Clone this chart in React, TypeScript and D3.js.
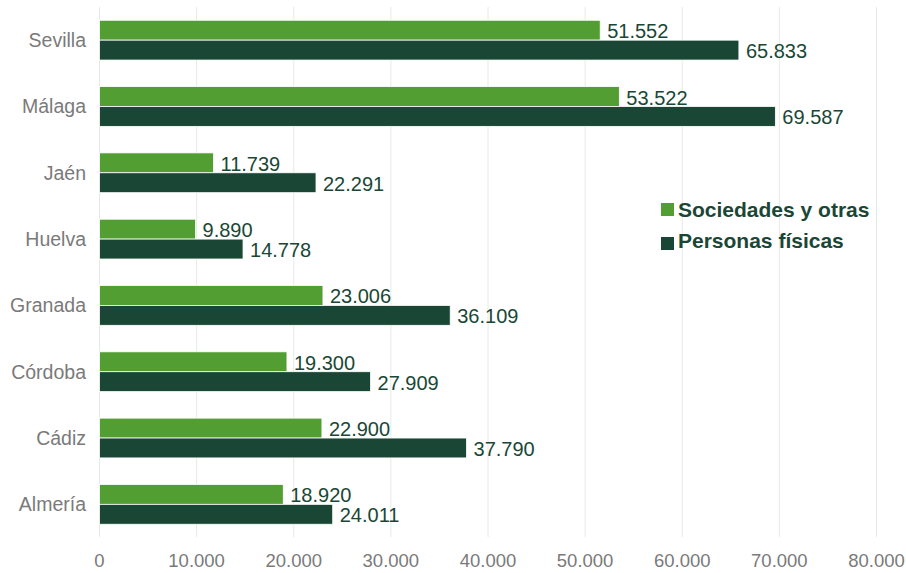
import React from "react";
import * as d3 from "d3";

const categories = ["Sevilla", "Málaga", "Jaén", "Huelva", "Granada", "Córdoba", "Cádiz", "Almería"];
const sociedades = [51552, 53522, 11739, 9890, 23006, 19300, 22900, 18920];
const personas = [65833, 69587, 22291, 14778, 36109, 27909, 37790, 24011];
const seriesNames = ["Sociedades y otras", "Personas físicas"];
const xTicks = [0, 10000, 20000, 30000, 40000, 50000, 60000, 70000, 80000];

const W = 906;
const H = 573;
const LIGHT = "#529e32";
const DARK = "#1a4735";
const GRAY = "#7a7a7a";
const FONT = "'Liberation Sans', Arial, sans-serif";

const fmt = (v: number) => d3.format(",")(v).replace(/,/g, ".");

export default function App() {
  const x = d3.scaleLinear().domain([0, 80000]).range([99.5, 876.5]);
  const y = d3
    .scaleBand<string>()
    .domain(categories)
    .range([7, 537.5])
    .paddingInner(0.4)
    .paddingOuter(0.2);
  const sub = d3.scaleBand<number>().domain([0, 1]).range([0, y.bandwidth()]);
  const series = [sociedades, personas];
  const colors = [LIGHT, DARK];

  return (
    <svg
      width={W}
      height={H}
      style={{ position: "absolute", left: 0, top: 0, background: "#fff" }}
      fontFamily={FONT}
    >
      {xTicks.map((t) => (
        <g key={t}>
          <line x1={x(t)} x2={x(t)} y1={7} y2={537} stroke="#e3ece3" strokeWidth={1} />
          <text x={x(t)} y={567} textAnchor="middle" fontSize={18.5} fill={GRAY}>
            {fmt(t)}
          </text>
        </g>
      ))}
      {categories.map((c, i) => (
        <g key={c}>
          <text
            x={86}
            y={(y(c) as number) + y.bandwidth() / 2}
            textAnchor="end"
            dominantBaseline="central"
            fontSize={19.5}
            fill={GRAY}
          >
            {c}
          </text>
          {series.map((s, k) => {
            const by = (y(c) as number) + (sub(k) as number);
            return (
              <g key={k}>
                <rect
                  x={x(0)}
                  y={by}
                  width={x(s[i]) - x(0)}
                  height={sub.bandwidth()}
                  fill={colors[k]}
                  stroke="#ffffff"
                  strokeWidth={0.8}
                />
                <text
                  x={x(s[i]) + 7}
                  y={by + sub.bandwidth() / 2 + 1}
                  dominantBaseline="central"
                  fontSize={20}
                  fill={DARK}
                >
                  {fmt(s[i])}
                </text>
              </g>
            );
          })}
        </g>
      ))}
      {seriesNames.map((n, k) => (
        <g key={n}>
          <rect x={661} y={203 + k * 34} width={13} height={13} fill={colors[k]} />
          <text x={678} y={217 + k * 31} fontSize={21} fontWeight="bold" fill={DARK}>
            {n}
          </text>
        </g>
      ))}
    </svg>
  );
}
